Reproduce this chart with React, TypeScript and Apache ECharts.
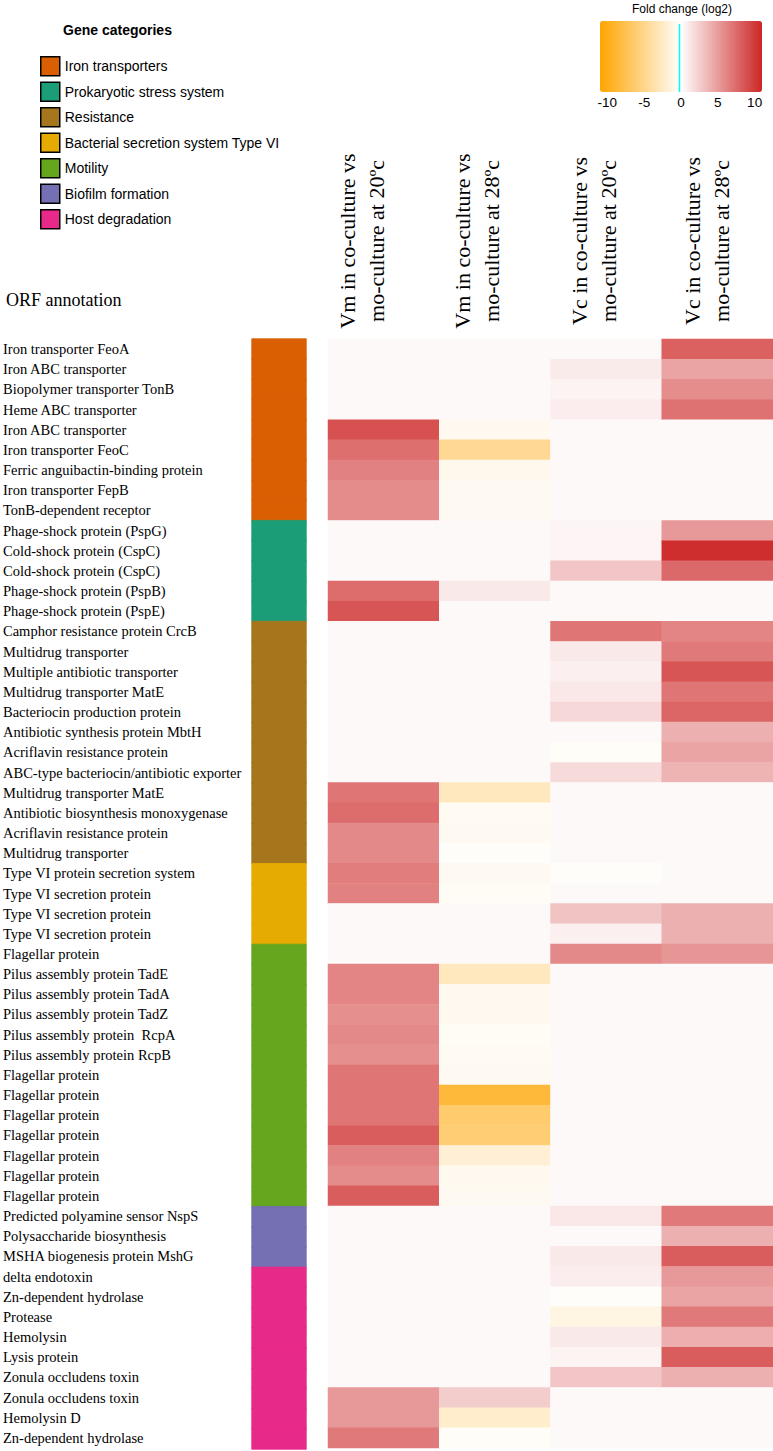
import React, { useEffect, useRef } from "react";
import * as echarts from "echarts";

const rowLabels = [
  "Iron transporter FeoA",
  "Iron ABC transporter",
  "Biopolymer transporter TonB",
  "Heme ABC transporter",
  "Iron ABC transporter",
  "Iron transporter FeoC",
  "Ferric anguibactin-binding protein",
  "Iron transporter FepB",
  "TonB-dependent receptor",
  "Phage-shock protein (PspG)",
  "Cold-shock protein (CspC)",
  "Cold-shock protein (CspC)",
  "Phage-shock protein (PspB)",
  "Phage-shock protein (PspE)",
  "Camphor resistance protein CrcB",
  "Multidrug transporter",
  "Multiple antibiotic transporter",
  "Multidrug transporter MatE",
  "Bacteriocin production protein",
  "Antibiotic synthesis protein MbtH",
  "Acriflavin resistance protein",
  "ABC-type bacteriocin/antibiotic exporter",
  "Multidrug transporter MatE",
  "Antibiotic biosynthesis monoxygenase",
  "Acriflavin resistance protein",
  "Multidrug transporter",
  "Type VI protein secretion system",
  "Type VI secretion protein",
  "Type VI secretion protein",
  "Type VI secretion protein",
  "Flagellar protein",
  "Pilus assembly protein TadE",
  "Pilus assembly protein TadA",
  "Pilus assembly protein TadZ",
  "Pilus assembly protein  RcpA",
  "Pilus assembly protein RcpB",
  "Flagellar protein",
  "Flagellar protein",
  "Flagellar protein",
  "Flagellar protein",
  "Flagellar protein",
  "Flagellar protein",
  "Flagellar protein",
  "Predicted polyamine sensor NspS",
  "Polysaccharide biosynthesis",
  "MSHA biogenesis protein MshG",
  "delta endotoxin",
  "Zn-dependent hydrolase",
  "Protease",
  "Hemolysin",
  "Lysis protein",
  "Zonula occludens toxin",
  "Zonula occludens toxin",
  "Hemolysin D",
  "Zn-dependent hydrolase",
];

const columnLabels = [
  "Vm in co-culture vs\nmo-culture at 20ºc",
  "Vm in co-culture vs\nmo-culture at 28ºc",
  "Vc in co-culture vs\nmo-culture at 20ºc",
  "Vc in co-culture vs\nmo-culture at 28ºc",
];

// log2 fold change, one array per comparison (rows in the order of rowLabels)
const vm20 = [
  0.3, 0.3, 0.3, 0.3, 8.8, 7.3, 6.4, 5.9, 5.9,
  0.3, 0.3, 0.3, 7.4, 8.6,
  0.3, 0.3, 0.3, 0.3, 0.3, 0.3, 0.3, 0.3, 7.0, 7.4, 6.0, 6.0,
  6.6, 6.4, 0.3, 0.3,
  0.3, 6.2, 6.2, 5.7, 6.0, 5.7, 7.0, 7.0, 7.0, 8.2, 6.4, 5.9, 8.2,
  0.3, 0.3, 0.3,
  0.3, 0.3, 0.3, 0.3, 0.3, 0.3, 5.2, 5.2, 6.8,
];
const vm28 = [
  0.3, 0.3, 0.3, 0.3, -0.7, -4.6, -0.8, -0.6, -0.6,
  0.3, 0.3, 0.3, 1.1, 0.3,
  0.3, 0.3, 0.3, 0.3, 0.3, 0.3, 0.3, 0.3, -2.8, -0.5, -0.6, -0.2,
  -0.6, -0.4, 0.3, 0.3,
  0.3, -2.8, -0.7, -0.7, -0.4, -0.5, -0.6, -8.5, -6.3, -6.0, -1.8, -0.7, -0.6,
  0.3, 0.3, 0.3,
  0.3, 0.3, 0.3, 0.3, 0.3, 0.3, 2.6, -2.2, -0.3,
];
const vc20 = [
  0.3, 1.0, 0.6, 0.9, 0.3, 0.3, 0.3, 0.3, 0.3,
  0.5, 0.5, 2.9, 0.3, 0.3,
  7.0, 1.1, 0.8, 1.2, 2.0, 0.3, -0.3, 1.8, 0.3, 0.3, 0.3, 0.3,
  -0.2, 0.3, 3.0, 0.8,
  6.0, 0.3, 0.3, 0.3, 0.3, 0.3, 0.3, 0.3, 0.3, 0.3, 0.3, 0.3, 0.3,
  1.2, 0.3, 1.1,
  0.9, -0.2, -1.2, 1.1, 0.6, 2.9, 0.3, 0.3, 0.3,
];
const vc28 = [
  8.0, 4.6, 5.8, 7.2, 0.3, 0.3, 0.3, 0.3, 0.3,
  5.2, 10.6, 7.6, 0.3, 0.3,
  6.2, 6.8, 8.6, 7.0, 7.8, 4.0, 4.6, 3.8, 0.3, 0.3, 0.3, 0.3,
  0.3, 0.3, 4.0, 4.0,
  5.3, 0.3, 0.3, 0.3, 0.3, 0.3, 0.3, 0.3, 0.3, 0.3, 0.3, 0.3, 0.3,
  6.8, 4.0, 8.2,
  5.2, 4.6, 6.8, 4.1, 8.2, 4.0, 0.3, 0.3, 0.3,
];

const categoryNames = [
  "Iron transporters",
  "Prokaryotic stress system",
  "Resistance",
  "Bacterial secretion system Type VI",
  "Motility",
  "Biofilm formation",
  "Host degradation",
];
const categoryColors = ["#D95F02", "#1B9E77", "#A6761D", "#E6AB02", "#66A61E", "#7570B3", "#E7298A"];
const categorySizes = [9, 5, 12, 4, 13, 3, 9];

const keyTicks = [-10, -5, 0, 5, 10];
const keyTrace = [
  [-0.2, 0],
  [-0.2, 68],
];

export default function App() {
  const ref = useRef<HTMLDivElement>(null);

  useEffect(() => {
    document.body.style.margin = "0";
    const el = ref.current;
    if (!el) return;
    const chart = echarts.init(el, undefined, { renderer: "svg" });

    const columns = [vm20, vm28, vc20, vc28];
    const heatData: number[][] = [];
    columns.forEach((col, c) => {
      col.forEach((v, r) => heatData.push([c, r, v]));
    });

    const rowKeys = rowLabels.map((_, i) => String(i));
    const colKeys = columnLabels.map((_, i) => String(i));

    let start = 0;
    const categorySeries = categoryNames.map((name, k) => {
      const data: number[][] = [];
      for (let r = start; r < start + categorySizes[k]; r++) data.push([0, r, k]);
      start += categorySizes[k];
      return {
        type: "heatmap",
        name,
        xAxisIndex: 1,
        yAxisIndex: 1,
        data,
        itemStyle: { color: categoryColors[k], borderColor: categoryColors[k], borderWidth: 0.8 },
        emphasis: { disabled: true },
        silent: true,
      };
    });

    const gridLeft = 325;
    const gridWidth = 448;
    const headerCenters = [362, 477, 594, 707];

    const option: any = {
      animation: false,
      backgroundColor: "#ffffff",
      legend: {
        orient: "vertical",
        left: 40,
        top: 56,
        padding: 0,
        itemWidth: 19,
        itemHeight: 19,
        itemGap: 5,
        icon: "rect",
        selectedMode: false,
        data: categoryNames,
        itemStyle: { borderColor: "#000", borderWidth: 1.5 },
        textStyle: { fontFamily: "Liberation Sans", fontSize: 14, color: "#000" },
      },
      grid: [
        { left: gridLeft, top: 339, width: gridWidth, height: 1109 },
        { left: 252, top: 339, width: 54, height: 1110 },
        { left: 600, top: 21, width: 162, height: 71 },
      ],
      xAxis: [
        { type: "category", gridIndex: 0, data: colKeys, show: false },
        { type: "category", gridIndex: 1, data: ["0"], show: false },
        {
          type: "value",
          gridIndex: 2,
          min: -11,
          max: 11,
          axisLine: { show: false },
          axisTick: { show: false },
          splitLine: { show: false },
          axisLabel: {
            customValues: keyTicks,
            fontFamily: "Liberation Sans",
            fontSize: 13.5,
            color: "#000",
            margin: 3,
          },
        },
      ],
      yAxis: [
        {
          type: "category",
          gridIndex: 0,
          data: rowKeys,
          inverse: true,
          axisLine: { show: false },
          axisTick: { show: false },
          splitLine: { show: false },
          axisLabel: {
            interval: 0,
            align: "left",
            margin: gridLeft,
            fontFamily: "Liberation Serif",
            fontSize: 14.5,
            color: "#000",
            formatter: (v: string) => rowLabels[Number(v)],
          },
        },
        { type: "category", gridIndex: 1, data: rowKeys, inverse: true, show: false },
        { type: "value", gridIndex: 2, min: 0, max: 71, show: false },
      ],
      visualMap: [
        {
          type: "continuous",
          seriesIndex: 0,
          min: -11,
          max: 11,
          orient: "horizontal",
          left: 600,
          top: 21,
          padding: 0,
          itemWidth: 71,
          itemHeight: 162,
          calculable: false,
          hoverLink: false,
          text: ["", ""],
          inRange: { color: ["#FFA500", "#FFFFFF", "#CD2626"] },
        },
        {
          type: "piecewise",
          show: false,
          seriesIndex: categoryNames.map((_, k) => k + 1),
          dimension: 2,
          pieces: categoryColors.map((c, k) => ({ value: k, color: c })),
        },
      ],
      graphic: [
        {
          type: "text",
          x: 63,
          y: 30,
          style: {
            text: "Gene categories",
            fontFamily: "Liberation Sans",
            fontWeight: "bold",
            fontSize: 14,
            fill: "#000",
            verticalAlign: "middle",
          },
        },
        {
          type: "text",
          x: 682,
          y: 9,
          style: {
            text: "Fold change (log2)",
            fontFamily: "Liberation Sans",
            fontSize: 12,
            fill: "#000",
            align: "center",
            verticalAlign: "middle",
          },
        },
        {
          type: "text",
          x: 6,
          y: 300,
          style: {
            text: "ORF annotation",
            fontFamily: "Liberation Serif",
            fontSize: 18,
            fill: "#000",
            verticalAlign: "middle",
          },
        },
        ...columnLabels.map((t, i) => ({
          type: "text",
          x: headerCenters[i],
          y: 241,
          rotation: Math.PI / 2,
          style: {
            text: t,
            fontFamily: "Liberation Serif",
            fontSize: 22,
            lineHeight: 29,
            fill: "#000",
            align: "center",
            verticalAlign: "middle",
          },
        })),
      ],
      series: [
        {
          type: "heatmap",
          xAxisIndex: 0,
          yAxisIndex: 0,
          data: heatData,
          emphasis: { disabled: true },
          silent: true,
        },
        ...categorySeries,
        {
          type: "line",
          xAxisIndex: 2,
          yAxisIndex: 2,
          data: keyTrace,
          symbol: "none",
          silent: true,
          z: 20,
          zlevel: 1,
          lineStyle: { color: "#00FFFF", width: 1.5 },
        },
      ],
    };

    chart.setOption(option);
    return () => chart.dispose();
  }, []);

  return <div ref={ref} style={{ width: 773, height: 1451 }} />;
}
